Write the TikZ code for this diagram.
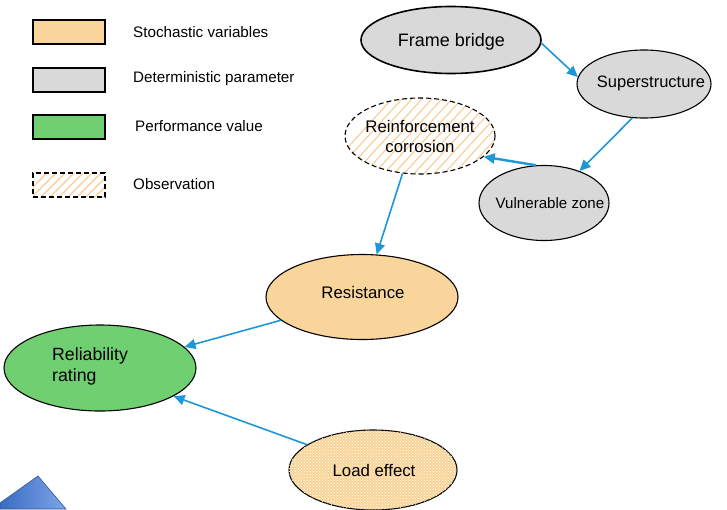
\documentclass[tikz,border=0pt]{standalone}
\usepackage{fontspec}
\setmainfont{Liberation Sans}
\usetikzlibrary{shapes.geometric,arrows.meta,patterns}
\definecolor{stoch}{RGB}{250,213,155}
\definecolor{loadfill}{RGB}{249,212,152}
\definecolor{detgray}{RGB}{217,217,217}
\definecolor{perfgreen}{RGB}{112,207,112}
\definecolor{hatchor}{RGB}{250,205,150}
\definecolor{arrblue}{RGB}{30,150,215}
\definecolor{tridark}{RGB}{58,108,196}
\definecolor{trilight}{RGB}{125,165,230}
\tikzset{
  bub/.style={ellipse, draw=black, line width=1.1pt, inner sep=0pt},
  gbub/.style={bub, fill=detgray},
  lbl/.style={inner sep=0pt, align=center, text=black},
  conn/.style={draw=arrblue, line width=1.6pt, -{Triangle[length=11pt,width=10pt]}},
  legbox/.style={draw=black, line width=1.3pt, minimum width=72pt, minimum height=24pt, inner sep=0pt},
  legtxt/.style={anchor=west, inner sep=0pt, font=\fontsize{15.2}{18}\selectfont},
}
\begin{document}
\begin{tikzpicture}[x=1pt,y=-1pt]
\useasboundingbox (0,0) rectangle (727,509);
\fill[white] (0,0) rectangle (727,509);

% legend
\node[legbox, fill=stoch] (lg1) at (69,32) {};
\node[legbox, fill=detgray] (lg2) at (69,80) {};
\node[legbox, fill=perfgreen] (lg3) at (69,127) {};
\begin{scope}
  \clip (33,173) rectangle (105,197);
  \foreach \k in {0,...,12} {
    \draw[hatchor, line width=1.1pt] (20+9*\k,200) -- (50+9*\k,170);
  }
\end{scope}
\node[legbox, dashed, dash pattern=on 5pt off 3pt] (lg4) at (69,185) {};
\node[legtxt] (lt1) at (133,32) {Stochastic variables};
\node[legtxt] (lt2) at (133,79) {Deterministic parameter};
\node[legtxt] (lt3) at (135,126) {Performance value};
\node[legtxt] (lt4) at (133,184) {Observation};

% nodes
\node[gbub, line width=1.6pt, minimum width=180pt, minimum height=67pt] (fb) at (451,40) {};
\node[lbl, font=\fontsize{18}{21}\selectfont] (fbt) at (451.5,42) {Frame bridge};

\node[gbub, minimum width=134pt, minimum height=68pt] (ss) at (644,84) {};
\node[lbl, font=\fontsize{16.5}{19}\selectfont] (sst) at (651,83) {Superstructure};

\begin{scope}
  \clip (420,136) ellipse [x radius=75, y radius=38];
  \foreach \k in {0,...,24} {
    \draw[hatchor, line width=1.1pt] (300+10*\k,200) -- (400+10*\k,90);
  }
\end{scope}
\node[bub, dashed, dash pattern=on 5pt off 3pt, minimum width=150pt, minimum height=76pt] (rc) at (420,136) {};
\node[lbl, font=\fontsize{16.8}{19.5}\selectfont] (rct) at (420,136.5) {Reinforcement\\corrosion};

\node[gbub, minimum width=130pt, minimum height=75pt] (vz) at (544,203) {};
\node[lbl, font=\fontsize{15.1}{18}\selectfont] (vzt) at (550,203) {Vulnerable zone};

\node[bub, fill=stoch, minimum width=192pt, minimum height=85pt] (rs) at (362,297) {};
\node[lbl, font=\fontsize{16.8}{19}\selectfont] (rst) at (363,292) {Resistance};

\node[bub, fill=perfgreen, minimum width=192pt, minimum height=86pt] (rr) at (100,368) {};
\node[lbl, align=left, anchor=west, font=\fontsize{17.7}{21}\selectfont] (rrt) at (52,366.5) {Reliability\\rating};

\node[bub, fill=loadfill, minimum width=168pt, minimum height=80pt,
      postaction={pattern=crosshatch dots, pattern color=white}] (le) at (373,470) {};
\node[lbl, font=\fontsize{16.8}{19}\selectfont] (let) at (374,470) {Load effect};

% connectors
\draw[conn] (fb.-2) -- (ss.174);
\draw[conn] (ss.-109) -- (vz.42);
\draw[conn, line width=2.4pt] (vz.102) -- (rc.-18);
\draw[conn] (rc.-115) -- (rs.71);
\draw[conn] (rs.-164) -- (rr.14);
\draw[conn] (le.159) -- (rr.-21);

% partial blue shape bottom-left
\shade[left color=tridark, right color=trilight, draw=tridark!80!black, line width=0.6pt]
  (0,509) -- (0,503) -- (38,476) -- (66,509) -- cycle;
\end{tikzpicture}
\end{document}
